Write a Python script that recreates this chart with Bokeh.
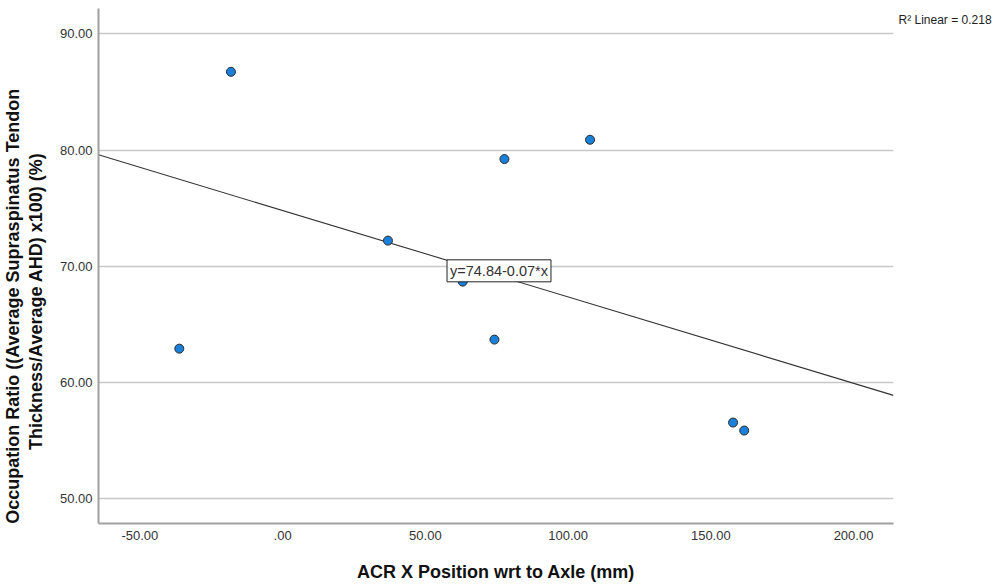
import numpy as np
from bokeh.plotting import figure
from bokeh.models import (ColumnDataSource, FixedTicker, Range1d, Label,
                          LinearAxis)
from bokeh.embed import file_html
from bokeh.resources import INLINE

# ---- data ----
acr_x = [-36.2, -18.1, 36.9, 63.1, 74.2, 77.7, 107.7, 157.8, 161.7]
occ_ratio = [62.9, 86.73, 72.2, 68.67, 63.68, 79.22, 80.88, 56.54, 55.85]

x_ticks = [-50, 0, 50, 100, 150, 200]
x_tick_labels = ["-50.00", ".00", "50.00", "100.00", "150.00", "200.00"]
y_ticks = [50, 60, 70, 80, 90]
y_tick_labels = ["50.00", "60.00", "70.00", "80.00", "90.00"]

x_title = "ACR X Position wrt to Axle (mm)"
y_title_1 = "Occupation Ratio ((Average Supraspinatus Tendon"
y_title_2 = "Thickness/Average AHD) x100) (%)"
fit_label = "y=74.84-0.07*x"
r2_label = "R\u00b2 Linear = 0.218"

FONT = "Liberation Sans"
W, H = 998, 587
FRAME_L, FRAME_R, FRAME_T, FRAME_B = 94, 893, 8, 523

x_lo, x_hi = -64.5, 214.0
y_lo, y_hi = 47.85, 92.18

p = figure(width=W, height=H, output_backend="svg", toolbar_location=None,
           x_range=Range1d(x_lo, x_hi), y_range=Range1d(y_lo, y_hi))
p.min_border = 0
p.min_border_left = FRAME_L
p.min_border_right = W - FRAME_R
p.min_border_top = FRAME_T
p.min_border_bottom = H - FRAME_B
p.outline_line_color = None
p.background_fill_color = "white"
p.border_fill_color = "white"

p.xgrid.visible = False
p.ygrid.ticker = FixedTicker(ticks=y_ticks)
p.ygrid.grid_line_color = "#c8c8c8"
p.ygrid.grid_line_width = 1.3

xax = p.xaxis[0]
yax = p.yaxis[0]


def plain(ax, size="13px", color="#333333", bold=False):
    ax.major_tick_line_color = None
    ax.minor_tick_line_color = None
    ax.major_tick_in = 0
    ax.major_tick_out = 0
    ax.minor_tick_in = 0
    ax.minor_tick_out = 0
    ax.major_label_text_font = FONT
    ax.major_label_text_font_size = size
    ax.major_label_text_color = color
    if bold:
        ax.major_label_text_font_style = "bold"


for ax in (xax, yax):
    plain(ax)
    ax.axis_line_color = "#a0a0a0"
    ax.axis_line_width = 2

xax.ticker = FixedTicker(ticks=x_ticks)
xax.major_label_overrides = dict(zip(x_ticks, x_tick_labels))
xax.major_label_standoff = 7
xax.axis_label = x_title
xax.axis_label_text_font = FONT
xax.axis_label_text_font_size = "18px"
xax.axis_label_text_font_style = "bold"
xax.axis_label_text_color = "#111111"
xax.axis_label_standoff = 19

yax.ticker = FixedTicker(ticks=y_ticks)
yax.major_label_overrides = dict(zip(y_ticks, y_tick_labels))
yax.major_label_standoff = 6

# y-axis title: two centred vertical lines carried by label-only axes
for text, pos, standoff in ((y_title_2, 66.98, 10), (y_title_1, 66.55, 0)):
    tax = LinearAxis(ticker=FixedTicker(ticks=[pos]),
                     major_label_overrides={pos: text},
                     major_label_orientation="vertical",
                     major_label_standoff=standoff,
                     axis_line_color=None)
    plain(tax, size="18px", color="#111111", bold=True)
    p.add_layout(tax, "left")

# R^2 note at top right, carried by a label-only axis on the right
r2_pos = 91.23
rax = LinearAxis(ticker=FixedTicker(ticks=[r2_pos]),
                 major_label_overrides={r2_pos: r2_label},
                 major_label_standoff=5, axis_line_color=None)
plain(rax, size="12px", color="#222222")
p.add_layout(rax, "right")

# regression line fitted from the data
slope, intercept = np.polyfit(acr_x, occ_ratio, 1)
fx = [x_lo, x_hi]
fy = [intercept + slope * v for v in fx]
p.line(fx, fy, line_color="#333333", line_width=1.1)

src = ColumnDataSource(dict(x=acr_x, y=occ_ratio))
p.scatter("x", "y", source=src, size=9, fill_color="#1a80d9",
          line_color="#2b2b2b", line_width=1)

p.add_layout(Label(x=75.8, y=69.6, text=fit_label, text_align="center",
                   text_baseline="middle", text_font=FONT, text_font_size="14.5px",
                   text_color="#333333", background_fill_color="white",
                   border_line_color="#222222", border_line_width=1, padding=3))

open("out.html", "w").write(file_html(p, INLINE))
